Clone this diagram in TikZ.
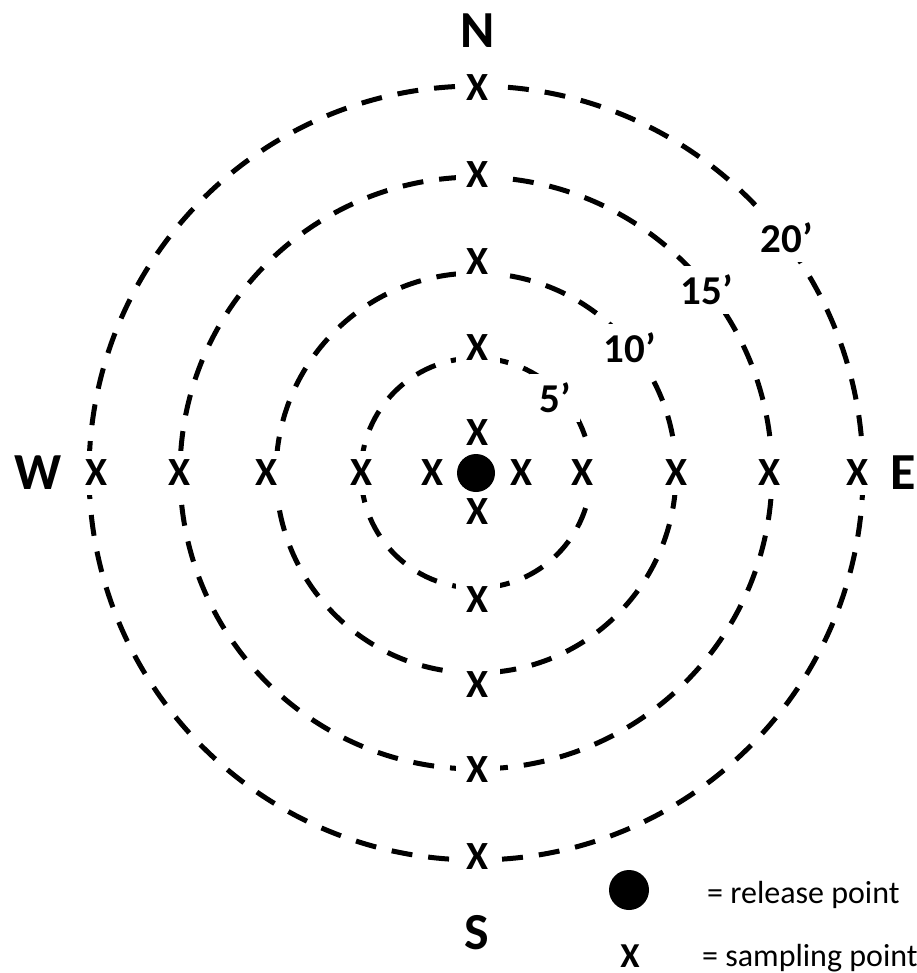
\documentclass[tikz,border=0pt]{standalone}
\usepackage{fontspec}
\setmainfont{Carlito}
\begin{document}
\begin{tikzpicture}[x=1pt,y=-1pt,
  ring/.style={draw, line width=5pt, dash pattern=on 21pt off 16pt},
  xmark/.style={font=\fontsize{40}{40}\selectfont\bfseries, fill=white, inner xsep=11pt, inner ysep=9pt},
  compass/.style={font=\fontsize{52}{52}\selectfont\bfseries, inner sep=0pt},
  dist/.style={font=\fontsize{41}{41}\selectfont\bfseries, fill=white, inner sep=9pt},
  legendtext/.style={font=\fontsize{32}{32}\selectfont, anchor=base west, inner sep=0pt},
  relpt/.style={circle, fill=black, inner sep=0pt}]
\useasboundingbox (0,0) rectangle (916,973);
\coordinate (ctr) at (476,473);
% rings
\foreach \r in {115,200,296,387}
  \draw[ring] (ctr) circle[radius=\r pt];
% distance labels
\node[dist] (d5)  at (555,398) {5’};
\node[dist] (d10) at (630,348) {10’};
\node[dist] (d15) at (707,290) {15’};
\node[dist] (d20) at (787,238) {20’};
% sampling points, horizontal row
\foreach \x [count=\i] in {97,180,267,362,433,522,583,677,770,858}
  \node[xmark] (h\i) at (\x,473) {X};
% sampling points, vertical column
\foreach \y [count=\i] in {88,175,262,348,433,512,600,685,770,857}
  \node[xmark] (v\i) at (478,\y) {X};
% release point
\node[relpt, minimum size=38pt] (rel) at (ctr) {};
% compass
\node[compass] (N) at (478,31) {N};
\node[compass] (S) at (477,933) {S};
\node[compass] (W) at (38,473) {W};
\node[compass] (E) at (903,473) {E};
% legend
\node[relpt, minimum size=40pt] (legdot) at (629,890) {};
\node[font=\fontsize{35}{35}\selectfont\bfseries, inner sep=0pt] (legx) at (630,956) {X};
\node[legendtext] (legrel) at (707,903) {= release point};
\node[legendtext] (legsam) at (702,966) {= sampling point};
\end{tikzpicture}
\end{document}
